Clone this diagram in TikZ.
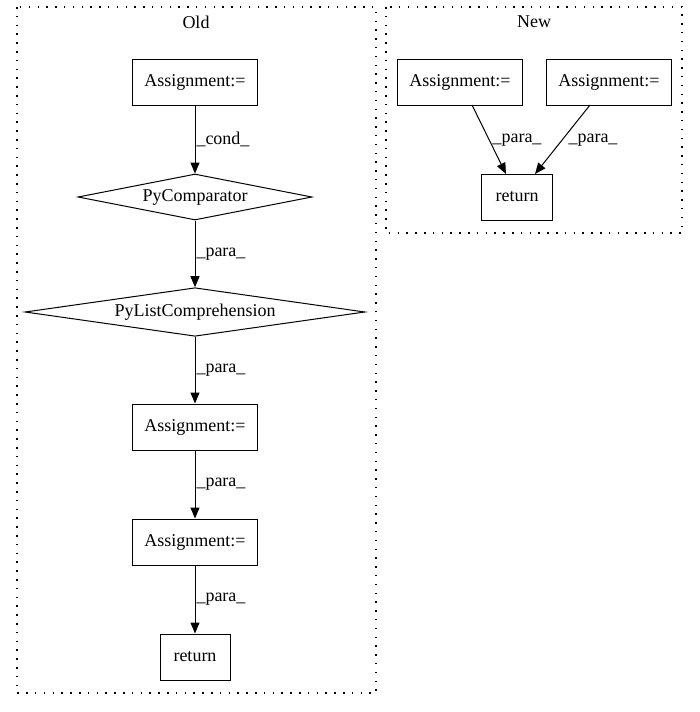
\documentclass[tikz,border=0pt]{standalone}
\usepackage{fontspec}
\setmainfont{Liberation Serif}
\usetikzlibrary{shapes.geometric,arrows.meta,positioning}

\tikzset{
  boite/.style={draw, rectangle, minimum width=125pt, minimum height=46pt, inner sep=0pt},
  losange/.style={draw, diamond, aspect=5, inner sep=0pt, minimum height=46pt},
  fleche/.style={-{Triangle[length=11pt,width=9pt]}},
  groupe/.style={draw, dash pattern=on 1.5pt off 7.3pt, line width=1.2pt},
  lbl/.style={anchor=west, inner sep=1pt}
}

\begin{document}
\begin{tikzpicture}[x=1pt, y=-1pt, line width=1pt, font=\fontsize{18}{20}\selectfont]

\useasboundingbox (0,0) rectangle (699,712);

% groupes
\draw[groupe] (17,7) rectangle (376,693);
\node (old) at (196,22) {Old};
\draw[groupe] (386,7) rectangle (682,233);
\node (new) at (534,22) {New};

% ancien
\node[boite] (a1) at (195,82) {Assignment:=};
\node[losange, minimum width=234pt] (cmp) at (195,197) {PyComparator};
\node[losange, minimum width=340pt] (lc) at (195,312) {PyListComprehension};
\node[boite] (a2) at (195,427) {Assignment:=};
\node[boite] (a3) at (195,542) {Assignment:=};
\node[boite, minimum width=70pt] (r1) at (195,657) {return};

\draw[fleche] (a1) -- node[lbl]{\_cond\_} (cmp);
\draw[fleche] (cmp) -- node[lbl]{\_para\_} (lc);
\draw[fleche] (lc) -- node[lbl]{\_para\_} (a2);
\draw[fleche] (a2) -- node[lbl]{\_para\_} (a3);
\draw[fleche] (a3) -- node[lbl]{\_para\_} (r1);

% nouveau
\node[boite] (b1) at (460,82) {Assignment:=};
\node[boite] (b2) at (609,82) {Assignment:=};
\node[boite, minimum width=71pt] (r2) at (517,197) {return};

\coordinate (p1) at (472,105);
\coordinate (q1) at (506,174);
\coordinate (p2) at (590,105);
\coordinate (q2) at (535,174);
\draw[fleche] (p1) -- (q1);
\draw[fleche] (p2) -- (q2);
\node (l1) at (517,140) {\_para\_};
\node (l2) at (593,140) {\_para\_};

\end{tikzpicture}
\end{document}
